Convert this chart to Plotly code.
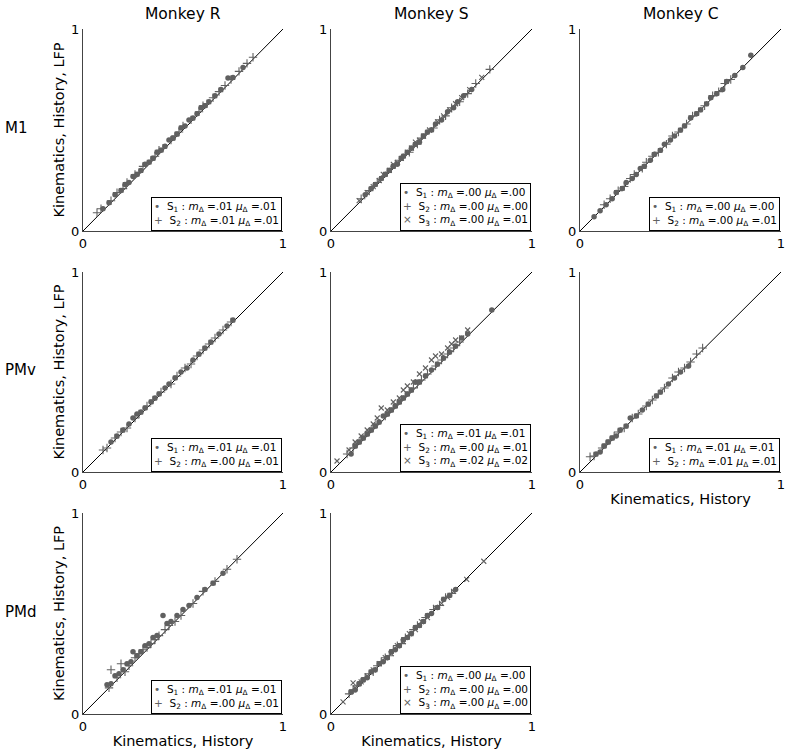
import plotly.graph_objects as go

W, H = 787, 752

col_titles = ["Monkey R", "Monkey S", "Monkey C"]
row_titles = ["M1", "PMv", "PMd"]
x_title = "Kinematics, History"
y_title = "Kinematics, History, LFP"
tick_vals = [0, 1]
tick_text = ["0", "1"]

# ---------------- data ----------------
# Monkey R, M1
r_m1_s1_x = [0.10, 0.13, 0.16, 0.19, 0.21, 0.23, 0.25, 0.27, 0.29, 0.31, 0.33, 0.35, 0.37, 0.39, 0.41, 0.43, 0.45, 0.47, 0.49, 0.51, 0.53, 0.55, 0.57, 0.59, 0.61, 0.63, 0.66, 0.69, 0.725, 0.75, 0.80]
r_m1_s1_y = [0.11, 0.14, 0.18, 0.20, 0.23, 0.24, 0.27, 0.28, 0.30, 0.33, 0.34, 0.36, 0.39, 0.40, 0.42, 0.45, 0.46, 0.48, 0.51, 0.52, 0.55, 0.56, 0.58, 0.61, 0.62, 0.64, 0.67, 0.70, 0.757, 0.76, 0.81]
r_m1_s2_x = [0.07, 0.09, 0.14, 0.17, 0.20, 0.22, 0.26, 0.28, 0.30, 0.34, 0.36, 0.38, 0.40, 0.44, 0.46, 0.48, 0.50, 0.54, 0.58, 0.60, 0.62, 0.65, 0.68, 0.71, 0.74, 0.78, 0.82, 0.85]
r_m1_s2_y = [0.09, 0.11, 0.15, 0.19, 0.21, 0.24, 0.28, 0.29, 0.32, 0.35, 0.37, 0.40, 0.41, 0.45, 0.47, 0.49, 0.52, 0.55, 0.59, 0.62, 0.63, 0.66, 0.69, 0.72, 0.75, 0.79, 0.83, 0.86]

# Monkey S, M1
s_m1_s1_x = [0.17, 0.20, 0.22, 0.25, 0.27, 0.29, 0.31, 0.33, 0.35, 0.36, 0.38, 0.40, 0.42, 0.44, 0.46, 0.48, 0.50, 0.52, 0.55, 0.58, 0.61, 0.63, 0.66, 0.70]
s_m1_s1_y = [0.18, 0.21, 0.23, 0.26, 0.28, 0.30, 0.32, 0.33, 0.36, 0.37, 0.39, 0.41, 0.43, 0.44, 0.47, 0.49, 0.50, 0.53, 0.55, 0.59, 0.61, 0.64, 0.67, 0.70]
s_m1_s2_x = [0.15, 0.19, 0.23, 0.26, 0.28, 0.30, 0.32, 0.34, 0.37, 0.39, 0.41, 0.43, 0.45, 0.47, 0.51, 0.54, 0.57, 0.60, 0.64, 0.68, 0.72, 0.79]
s_m1_s2_y = [0.16, 0.20, 0.24, 0.27, 0.29, 0.31, 0.33, 0.35, 0.38, 0.39, 0.42, 0.43, 0.46, 0.48, 0.51, 0.55, 0.57, 0.61, 0.64, 0.68, 0.73, 0.80]
s_m1_s3_x = [0.14, 0.18, 0.21, 0.24, 0.26, 0.29, 0.31, 0.33, 0.35, 0.38, 0.40, 0.42, 0.44, 0.46, 0.49, 0.53, 0.56, 0.59, 0.62, 0.65, 0.69, 0.75]
s_m1_s3_y = [0.15, 0.19, 0.22, 0.25, 0.28, 0.30, 0.33, 0.34, 0.36, 0.39, 0.41, 0.44, 0.45, 0.47, 0.50, 0.54, 0.57, 0.60, 0.63, 0.66, 0.70, 0.76]

# Monkey C, M1
c_m1_s1_x = [0.07, 0.10, 0.13, 0.16, 0.18, 0.21, 0.23, 0.26, 0.28, 0.30, 0.32, 0.35, 0.37, 0.40, 0.42, 0.45, 0.47, 0.50, 0.52, 0.55, 0.58, 0.60, 0.63, 0.65, 0.68, 0.71, 0.73, 0.77, 0.81, 0.85]
c_m1_s1_y = [0.07, 0.10, 0.13, 0.16, 0.19, 0.21, 0.24, 0.26, 0.28, 0.31, 0.32, 0.35, 0.38, 0.40, 0.43, 0.45, 0.47, 0.50, 0.52, 0.56, 0.58, 0.60, 0.63, 0.66, 0.68, 0.70, 0.74, 0.77, 0.81, 0.87]
c_m1_s2_x = [0.12, 0.15, 0.19, 0.22, 0.25, 0.27, 0.31, 0.33, 0.36, 0.39, 0.43, 0.46, 0.49, 0.53, 0.56, 0.59, 0.62, 0.66, 0.69, 0.72, 0.75]
c_m1_s2_y = [0.13, 0.16, 0.20, 0.22, 0.26, 0.28, 0.31, 0.34, 0.37, 0.39, 0.43, 0.47, 0.49, 0.53, 0.57, 0.59, 0.62, 0.67, 0.69, 0.73, 0.75]

# Monkey R, PMv
r_pmv_s1_x = [0.14, 0.17, 0.20, 0.23, 0.25, 0.27, 0.29, 0.31, 0.34, 0.36, 0.38, 0.41, 0.43, 0.46, 0.49, 0.52, 0.55, 0.58, 0.61, 0.64, 0.68, 0.72, 0.75]
r_pmv_s1_y = [0.15, 0.18, 0.21, 0.24, 0.27, 0.29, 0.30, 0.32, 0.35, 0.37, 0.39, 0.42, 0.44, 0.47, 0.50, 0.52, 0.56, 0.59, 0.62, 0.65, 0.69, 0.73, 0.76]
r_pmv_s2_x = [0.10, 0.12, 0.16, 0.19, 0.22, 0.26, 0.28, 0.32, 0.35, 0.39, 0.44, 0.47, 0.51, 0.54, 0.57, 0.60, 0.63, 0.66, 0.70, 0.74]
r_pmv_s2_y = [0.11, 0.12, 0.17, 0.20, 0.22, 0.27, 0.29, 0.33, 0.36, 0.40, 0.44, 0.48, 0.52, 0.54, 0.58, 0.61, 0.64, 0.67, 0.71, 0.75]

# Monkey S, PMv
s_pmv_s1_x = [0.10, 0.12, 0.14, 0.16, 0.18, 0.20, 0.22, 0.24, 0.26, 0.28, 0.30, 0.32, 0.34, 0.36, 0.38, 0.40, 0.42, 0.44, 0.47, 0.50, 0.53, 0.56, 0.59, 0.62, 0.65, 0.68, 0.80]
s_pmv_s1_y = [0.09, 0.13, 0.15, 0.17, 0.19, 0.21, 0.23, 0.25, 0.28, 0.29, 0.31, 0.33, 0.35, 0.37, 0.39, 0.41, 0.45, 0.45, 0.48, 0.51, 0.54, 0.57, 0.60, 0.63, 0.67, 0.69, 0.81]
s_pmv_s2_x = [0.08, 0.11, 0.13, 0.15, 0.17, 0.19, 0.21, 0.23, 0.27, 0.29, 0.31, 0.33, 0.35, 0.37, 0.39, 0.41, 0.43, 0.45, 0.48, 0.52, 0.55, 0.58, 0.61, 0.64]
s_pmv_s2_y = [0.09, 0.12, 0.14, 0.16, 0.18, 0.20, 0.22, 0.24, 0.28, 0.30, 0.32, 0.34, 0.36, 0.38, 0.40, 0.42, 0.44, 0.46, 0.49, 0.53, 0.56, 0.59, 0.62, 0.65]
s_pmv_s3_x = [0.03, 0.09, 0.12, 0.15, 0.18, 0.21, 0.23, 0.25, 0.28, 0.31, 0.34, 0.36, 0.38, 0.41, 0.44, 0.47, 0.50, 0.52, 0.55, 0.58, 0.60, 0.62, 0.65, 0.68]
s_pmv_s3_y = [0.055, 0.11, 0.15, 0.18, 0.21, 0.24, 0.27, 0.32, 0.31, 0.35, 0.37, 0.41, 0.43, 0.45, 0.49, 0.52, 0.56, 0.58, 0.59, 0.62, 0.64, 0.66, 0.67, 0.71]

# Monkey C, PMv
c_pmv_s1_x = [0.08, 0.10, 0.12, 0.14, 0.16, 0.18, 0.20, 0.23, 0.25, 0.28, 0.31, 0.34, 0.38, 0.40, 0.44, 0.47, 0.50, 0.54]
c_pmv_s1_y = [0.09, 0.10, 0.13, 0.15, 0.17, 0.18, 0.21, 0.23, 0.27, 0.28, 0.31, 0.34, 0.38, 0.40, 0.44, 0.47, 0.50, 0.53]
c_pmv_s2_x = [0.05, 0.07, 0.11, 0.13, 0.15, 0.17, 0.19, 0.22, 0.26, 0.29, 0.33, 0.36, 0.39, 0.42, 0.46, 0.49, 0.52, 0.55, 0.58, 0.61]
c_pmv_s2_y = [0.076, 0.08, 0.12, 0.14, 0.16, 0.18, 0.20, 0.22, 0.27, 0.29, 0.33, 0.36, 0.39, 0.42, 0.47, 0.50, 0.52, 0.55, 0.59, 0.62]

# Monkey R, PMd
r_pmd_s1_x = [0.12, 0.14, 0.16, 0.18, 0.20, 0.22, 0.24, 0.25, 0.27, 0.29, 0.31, 0.33, 0.35, 0.37, 0.40, 0.42, 0.44, 0.47, 0.50, 0.53, 0.57, 0.61, 0.65, 0.70]
r_pmd_s1_y = [0.145, 0.15, 0.19, 0.20, 0.22, 0.25, 0.26, 0.31, 0.29, 0.31, 0.34, 0.35, 0.38, 0.39, 0.49, 0.45, 0.46, 0.49, 0.52, 0.54, 0.58, 0.62, 0.65, 0.70]
r_pmd_s2_x = [0.13, 0.14, 0.17, 0.19, 0.21, 0.23, 0.26, 0.28, 0.30, 0.32, 0.34, 0.36, 0.38, 0.41, 0.43, 0.46, 0.49, 0.55, 0.60, 0.66, 0.72, 0.77]
r_pmd_s2_y = [0.13, 0.22, 0.18, 0.25, 0.21, 0.24, 0.28, 0.30, 0.32, 0.33, 0.35, 0.37, 0.39, 0.42, 0.44, 0.46, 0.49, 0.55, 0.61, 0.66, 0.72, 0.77]

# Monkey S, PMd
s_pmd_s1_x = [0.10, 0.12, 0.14, 0.16, 0.18, 0.20, 0.22, 0.24, 0.26, 0.28, 0.30, 0.32, 0.34, 0.36, 0.38, 0.40, 0.42, 0.44, 0.46, 0.48, 0.50, 0.53, 0.56, 0.59, 0.62]
s_pmd_s1_y = [0.11, 0.12, 0.15, 0.17, 0.18, 0.21, 0.22, 0.25, 0.26, 0.28, 0.31, 0.32, 0.34, 0.37, 0.38, 0.40, 0.43, 0.44, 0.46, 0.49, 0.50, 0.53, 0.57, 0.59, 0.62]
s_pmd_s2_x = [0.09, 0.11, 0.13, 0.15, 0.17, 0.19, 0.21, 0.23, 0.25, 0.27, 0.29, 0.31, 0.33, 0.35, 0.37, 0.39, 0.41, 0.43, 0.45, 0.47, 0.51, 0.54, 0.57, 0.60]
s_pmd_s2_y = [0.10, 0.12, 0.14, 0.16, 0.18, 0.20, 0.21, 0.24, 0.26, 0.28, 0.29, 0.32, 0.34, 0.35, 0.38, 0.39, 0.42, 0.44, 0.45, 0.48, 0.52, 0.54, 0.58, 0.60]
s_pmd_s3_x = [0.06, 0.11, 0.12, 0.15, 0.18, 0.21, 0.24, 0.27, 0.30, 0.33, 0.36, 0.39, 0.42, 0.45, 0.48, 0.52, 0.55, 0.58, 0.61, 0.675, 0.76]
s_pmd_s3_y = [0.06, 0.155, 0.13, 0.16, 0.19, 0.22, 0.25, 0.28, 0.30, 0.34, 0.36, 0.40, 0.42, 0.46, 0.48, 0.53, 0.55, 0.58, 0.61, 0.67, 0.76]

# legend statistics: (session, m_delta, mu_delta)
r_m1_stats = [("1", ".01", ".01"), ("2", ".01", ".01")]
s_m1_stats = [("1", ".00", ".00"), ("2", ".00", ".00"), ("3", ".00", ".01")]
c_m1_stats = [("1", ".00", ".00"), ("2", ".00", ".01")]
r_pmv_stats = [("1", ".01", ".01"), ("2", ".00", ".01")]
s_pmv_stats = [("1", ".01", ".01"), ("2", ".00", ".01"), ("3", ".02", ".02")]
c_pmv_stats = [("1", ".01", ".01"), ("2", ".01", ".01")]
r_pmd_stats = [("1", ".01", ".01"), ("2", ".00", ".01")]
s_pmd_stats = [("1", ".00", ".00"), ("2", ".00", ".00"), ("3", ".00", ".00")]

panels = [
    (0, 0, [(r_m1_s1_x, r_m1_s1_y), (r_m1_s2_x, r_m1_s2_y)], r_m1_stats),
    (0, 1, [(s_m1_s1_x, s_m1_s1_y), (s_m1_s2_x, s_m1_s2_y), (s_m1_s3_x, s_m1_s3_y)], s_m1_stats),
    (0, 2, [(c_m1_s1_x, c_m1_s1_y), (c_m1_s2_x, c_m1_s2_y)], c_m1_stats),
    (1, 0, [(r_pmv_s1_x, r_pmv_s1_y), (r_pmv_s2_x, r_pmv_s2_y)], r_pmv_stats),
    (1, 1, [(s_pmv_s1_x, s_pmv_s1_y), (s_pmv_s2_x, s_pmv_s2_y), (s_pmv_s3_x, s_pmv_s3_y)], s_pmv_stats),
    (1, 2, [(c_pmv_s1_x, c_pmv_s1_y), (c_pmv_s2_x, c_pmv_s2_y)], c_pmv_stats),
    (2, 0, [(r_pmd_s1_x, r_pmd_s1_y), (r_pmd_s2_x, r_pmd_s2_y)], r_pmd_stats),
    (2, 1, [(s_pmd_s1_x, s_pmd_s1_y), (s_pmd_s2_x, s_pmd_s2_y), (s_pmd_s3_x, s_pmd_s3_y)], s_pmd_stats),
]

# ---------------- layout geometry (pixels) ----------------
col_px = [(83, 283), (331, 532), (580, 781)]
row_px = [(29, 231), (272, 472), (513, 714)]

FONT = "DejaVu Sans"
MK = "#606060"
AX = "#444444"
symbols = [
    dict(symbol="circle", size=5.5, color=MK, line=dict(width=0)),
    dict(symbol="cross-thin", size=6, color=MK, line=dict(width=1.1, color=MK)),
    dict(symbol="x-thin", size=5, color=MK, line=dict(width=1.1, color=MK)),
]
glyphs = ["•", "+", "×"]

fig = go.Figure()
layout = dict(
    width=W, height=H,
    margin=dict(l=0, r=0, t=0, b=0, autoexpand=False),
    paper_bgcolor="white", plot_bgcolor="white",
    showlegend=False,
    font=dict(family=FONT, color="black"),
)
annotations = []

for k, (r, c, series, stats) in enumerate(panels):
    n = k + 1
    xa = "xaxis" if n == 1 else f"xaxis{n}"
    ya = "yaxis" if n == 1 else f"yaxis{n}"
    xr = "x" if n == 1 else f"x{n}"
    yr = "y" if n == 1 else f"y{n}"
    x0, x1 = col_px[c]
    top, bot = row_px[r]
    common = dict(
        range=[0, 1], tickvals=tick_vals, ticktext=tick_text,
        ticks="inside", ticklen=4, tickcolor=AX, tickwidth=1,
        showline=True, linecolor=AX, linewidth=1.3,
        showgrid=False, zeroline=False, fixedrange=True, automargin=False,
        tickfont=dict(size=13, family=FONT, color="black"),
    )
    layout[xa] = dict(common, domain=[x0 / W, x1 / W], anchor=yr)
    layout[ya] = dict(common, domain=[1 - bot / H, 1 - top / H], anchor=xr)
    show_x_title = (r == 2) or (r == 1 and c == 2)
    if show_x_title:
        layout[xa]["title"] = dict(text=x_title, font=dict(size=14.5, family=FONT), standoff=3)
    if c == 0:
        layout[ya]["title"] = dict(text=y_title, font=dict(size=14.5, family=FONT), standoff=2)

    # identity line
    fig.add_trace(go.Scatter(x=[0, 1], y=[0, 1], mode="lines",
                             line=dict(color="black", width=1), xaxis=xr, yaxis=yr,
                             hoverinfo="skip"))
    for i, (sx, sy) in enumerate(series):
        fig.add_trace(go.Scatter(x=sx, y=sy, mode="markers", marker=symbols[i],
                                 xaxis=xr, yaxis=yr, name=f"S{i+1}"))

    lines = []
    for i, (s, m, mu) in enumerate(stats):
        lines.append(
            f"<span style='color:{MK}'>{glyphs[i]}</span>  S<sub>{s}</sub> : "
            f"<i>m</i><sub>Δ</sub> ={m} <i>μ</i><sub>Δ</sub> ={mu}"
        )
    annotations.append(dict(
        xref=f"{xr} domain", yref=f"{yr} domain", x=0.995, y=0.0,
        xanchor="right", yanchor="bottom", showarrow=False, align="left",
        text="<br>".join(lines), font=dict(size=10.5, family=FONT, color="black"),
        bordercolor="black", borderwidth=1, borderpad=2, bgcolor="white",
    ))

# column titles
for c, t in enumerate(col_titles):
    x0, x1 = col_px[c]
    annotations.append(dict(xref="paper", yref="paper", x=(x0 + x1) / 2 / W, y=1 - 14 / H,
                            text=t, showarrow=False, xanchor="center", yanchor="middle",
                            font=dict(size=15.5, family=FONT)))
# row titles
for r, t in enumerate(row_titles):
    top, bot = row_px[r]
    annotations.append(dict(xref="paper", yref="paper", x=3 / W, y=1 - ((top + bot) / 2 - 2) / H,
                            text=t, showarrow=False, xanchor="left", yanchor="middle",
                            font=dict(size=15, family=FONT)))

layout["annotations"] = annotations
fig.update_layout(**layout)
fig.write_html("out.html", config={"displayModeBar": False},
               post_script="document.body.style.margin='0px';document.body.style.overflow='hidden';")
